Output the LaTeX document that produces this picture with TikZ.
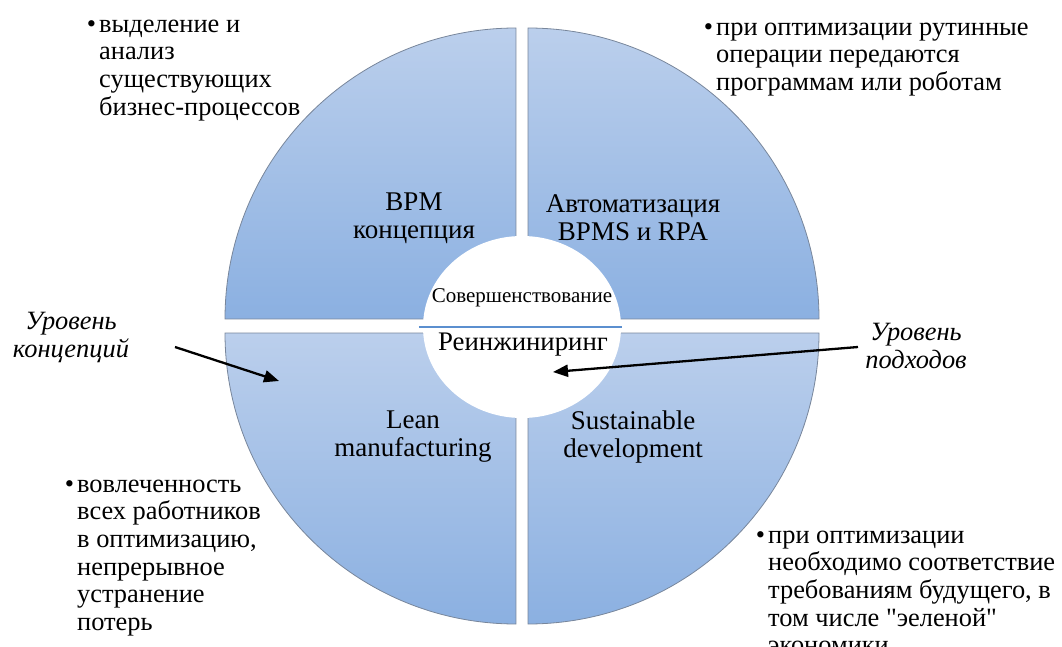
\documentclass[tikz,border=0pt]{standalone}
\usepackage{fontspec}
\setmainfont{Liberation Serif}[Ligatures=TeXOff]
\usetikzlibrary{arrows.meta,shapes.geometric}
\definecolor{qtop}{RGB}{187,207,236}
\definecolor{qbot}{RGB}{139,176,225}
\definecolor{qedge}{RGB}{120,134,155}
\definecolor{divline}{RGB}{91,143,207}

\begin{document}
\begin{tikzpicture}[x=1pt,y=1pt,
  quad/.style={top color=qtop,bottom color=qbot,draw=qedge,line width=0.8pt},
  qlabel/.style={align=center,inner sep=0pt,font=\fontsize{27}{28}\selectfont},
  note/.style={align=left,anchor=north west,inner sep=0pt,font=\fontsize{26.4}{27.6}\selectfont},
  level/.style={align=center,anchor=north,inner sep=0pt,font=\fontsize{26.4}{28}\selectfont\itshape},
  pointer/.style={-{Triangle[length=15pt,width=12pt]},line width=2.3pt}
]
\useasboundingbox (0,0) rectangle (1062,646);
\def\R{291}

% four quarter discs separated by thin gaps
\shadedraw[quad] (516,327) -- ++(-\R,0) arc[start angle=180,end angle=90,radius=\R pt] -- cycle;
\shadedraw[quad] (528,327) -- ++(0,\R) arc[start angle=90,end angle=0,radius=\R pt] -- cycle;
\shadedraw[quad] (516,313) -- ++(-\R,0) arc[start angle=180,end angle=270,radius=\R pt] -- cycle;
\shadedraw[quad] (528,313) -- ++(\R,0) arc[start angle=0,end angle=-90,radius=\R pt] -- cycle;

% central hub
\node (hub) [ellipse,fill=white,draw=none,minimum width=198pt,minimum height=182pt,inner sep=0pt] at (522,319) {};
\draw[divline,line width=1.2pt] ([xshift=-4pt]hub.west) -- ([xshift=1pt]hub.east);
\node (improve) [inner sep=0pt,font=\fontsize{21}{24}\selectfont] at (522,348) {Совершенствование};
\node (reeng) [inner sep=0pt,font=\fontsize{26.8}{28}\selectfont] at (523,301) {Реинжиниринг};

% quadrant labels
\node (bpm)  [qlabel] at (414,428) {BPM\\концепция};
\node (auto) [qlabel] at (633,428) {Автоматизация\\BPMS и RPA};
\node (lean) [qlabel] at (413,209) {Lean\\manufacturing};
\node (sust) [qlabel] at (633,209) {Sustainable\\development};

% notes
\node (n1) [note] at (99,633.3) {\strut\llap{•\hspace{3pt}}выделение и\\анализ\\существующих\\бизнес-процессов};
\node (n2) [note] at (716,630.3) {\strut\llap{•\hspace{3pt}}при оптимизации рутинные\\операции передаются\\программам или роботам};
\node (n3) [note] at (768,122.3) {\strut\llap{•\hspace{3pt}}при оптимизации\\необходимо соответствие\\требованиям будущего, в\\том числе "эеленой"\\экономики.};
\node (n4) [note] at (77,173.3) {\strut\llap{•\hspace{3pt}}вовлеченность\\всех работников\\в оптимизацию,\\непрерывное\\устранение\\потерь};

% level captions and pointers
\node (lvlc) [level] at (71,336.6) {\strut Уровень\\концепций};
\node (lvla) [level] at (916,325.6) {\strut Уровень\\подходов};
\coordinate (pc1) at (175,299);
\coordinate (pc2) at (279,265);
\coordinate (pa1) at (858,299);
\coordinate (pa2) at (553,274);
\draw[pointer] (pc1) -- (pc2);
\draw[pointer] (pa1) -- (pa2);
\end{tikzpicture}
\end{document}
